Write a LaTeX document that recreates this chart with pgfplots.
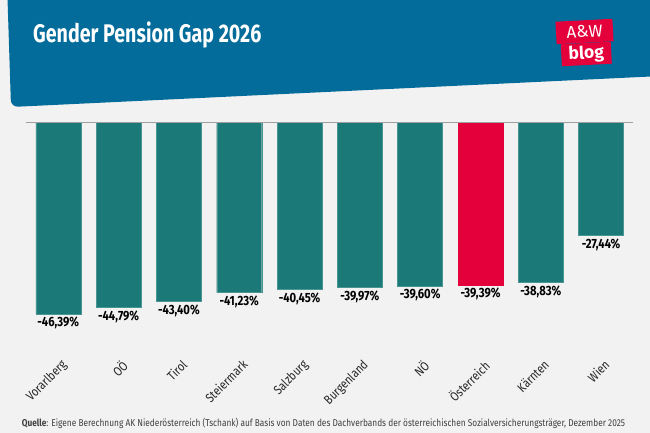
\documentclass[border=0pt]{standalone}
\usepackage{pgfplots}
\pgfplotsset{compat=1.18}
\usepackage{fontspec}
\setmainfont{Fira Sans}[FakeStretch=0.84]
\newfontfamily\titlefont{Fira Sans}[FakeStretch=0.77]
\newfontfamily\logofont{Fira Sans}
\definecolor{bgray}{HTML}{F2F2F2}
\definecolor{bannerblue}{HTML}{036C9A}
\definecolor{barteal}{HTML}{1B7A77}
\definecolor{barred}{HTML}{E4003B}
\definecolor{logored}{HTML}{E4003B}
\definecolor{axgray}{HTML}{A0A0A0}

\begin{document}
\begin{tikzpicture}[x=1pt,y=1pt]
  % page and background
  \useasboundingbox (0,0) rectangle (650,433);
  \clip (0,0) rectangle (650,433);
  \fill[bgray] (0,0) rectangle (650,433);

  % sloped header banner
  \fill[bannerblue, rounded corners=7pt] (7,450) -- (11,326) -- (670,357.4) -- (670,450) -- cycle;
  \node[anchor=base west, text=white, font=\titlefont\fontsize{25.5}{28}\selectfont\bfseries, inner sep=0pt]
    at (33,390.3) {Gender Pension Gap 2026};

  % logo
  \node[rotate=3, fill=logored, text=white, minimum width=57pt, minimum height=22.5pt, inner sep=0pt,
        font=\logofont\fontsize{17}{18}\selectfont] at (584.5,401.5) {A\&W};
  \node[rotate=3, fill=logored, text=white, minimum width=50pt, minimum height=22pt, inner sep=0pt,
        font=\logofont\fontsize{17.5}{18}\selectfont\bfseries] at (586.3,379) {blog};

  \begin{axis}[
      at={(25.7pt,310.7pt)}, anchor=north west,
      scale only axis, width=607.4pt, height=206.5pt,
      xmin=-0.54, xmax=9.53, ymin=-50, ymax=0,
      axis line style={draw=none},
      ytick=\empty,
      xtick={0,...,9},
      xticklabels={Vorarlberg,OÖ,Tirol,Steiermark,Salzburg,Burgenland,NÖ,Österreich,Kärnten,Wien},
      major tick length=0pt,
      xticklabel shift=32pt,
      xticklabel style={rotate=45, anchor=north east, inner sep=0pt, font=\fontsize{12.8}{14}\selectfont, text=black!85, xshift=3pt},
      ybar, bar width=45pt, bar shift=0pt,
      clip=false,
      /pgf/number format/assume math mode=true,
      nodes near coords={\pgfmathprintnumber[fixed,fixed zerofill,precision=2,use comma]{\pgfplotspointmeta}\%},
      every node near coord/.append style={font=\fontsize{13.4}{14}\selectfont\bfseries, text=black, inner sep=3pt},
    ]
    \addplot[draw=barteal!80!white, fill=barteal, line width=0.4pt] coordinates {
      (0,-46.39) (1,-44.79) (2,-43.40) (3,-41.23) (4,-40.45)
      (5,-39.97) (6,-39.60) (8,-38.83) (9,-27.44)
    };
    \addplot[draw=barred, fill=barred, line width=0.4pt] coordinates {(7,-39.39)};
    \draw[axgray, line width=0.8pt] (rel axis cs:0,1) -- (rel axis cs:1,1);
  \end{axis}

  % source line
  \node[anchor=base west, inner sep=0pt, text=black!75, font=\fontsize{9.9}{12}\selectfont] at (21.7,6)
    {\textbf{Quelle}: Eigene Berechnung AK Niederösterreich (Tschank) auf Basis von Daten des Dachverbands der österreichischen Sozialversicherungsträger, Dezember 2025};
\end{tikzpicture}
\end{document}
